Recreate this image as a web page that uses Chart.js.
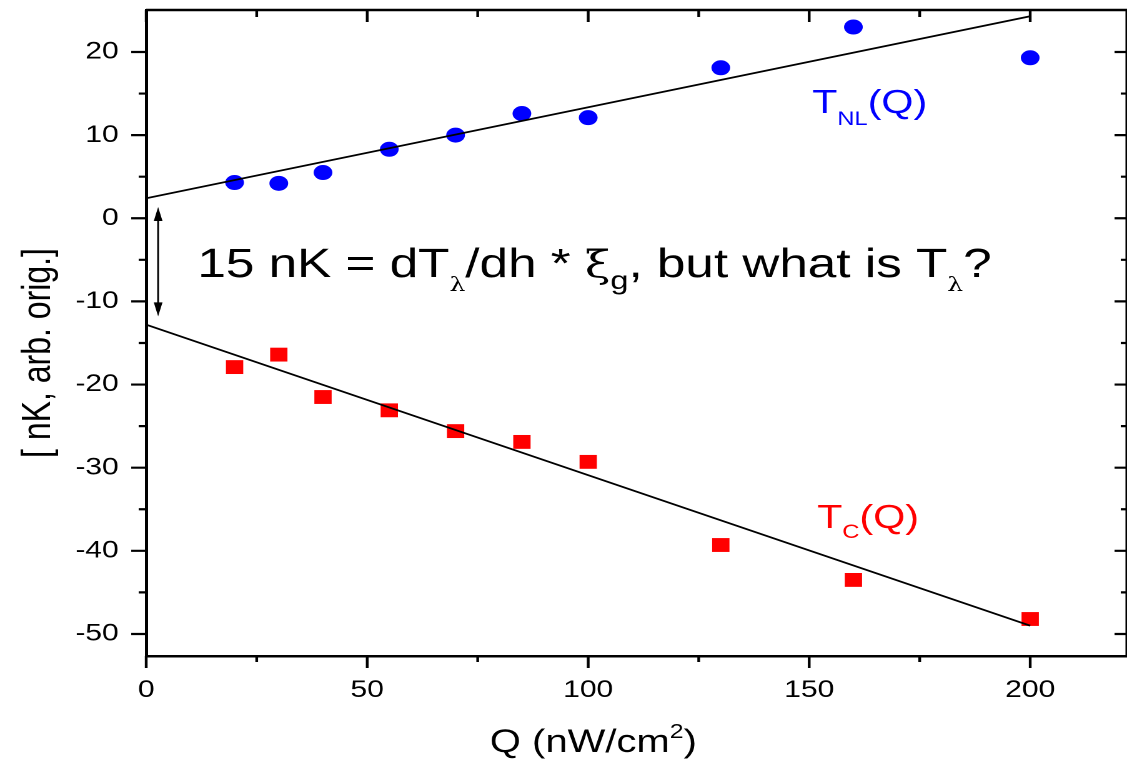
<!DOCTYPE html>
<html>
<head>
<meta charset="utf-8">
<script src="https://cdn.jsdelivr.net/npm/chart.js@4.4.1/dist/chart.umd.min.js"></script>
<style>
  html, body { margin: 0; padding: 0; background: #fff; }
  #plot { display: block; width: 1127px; height: 760px; }
</style>
</head>
<body>
<canvas id="plot" width="902" height="760" style="width:1127px;height:760px"></canvas>
<script>
// measured data (Q in nW/cm^2, temperatures in nK)
const qValues = [20, 30, 40, 55, 70, 85, 100, 130, 160, 200];
const tNL = [4.3, 4.2, 5.5, 8.3, 10.0, 12.6, 12.1, 18.1, 23.0, 19.3];
const tC = [-17.9, -16.4, -21.5, -23.1, -25.6, -26.9, -29.3, -39.3, -43.5, -48.2];

// linear fits, endpoints
const fitQ = [0, 200];
const fitNL = [2.4, 24.3];
const fitC = [-12.8, -49.0];

// double arrow between the intercepts
const arrowQ = 2.7;
const arrowY = [1.35, -11.8];

// tick positions (labelled every 50 / every 10)
const xTicks = [0, 25, 50, 75, 100, 125, 150, 175, 200];
const yTicks = [-50, -45, -40, -35, -30, -25, -20, -15, -10, -5, 0, 5, 10, 15, 20];

const xRange = [0, 221.9];
const yRange = [-52.65, 25.05];

const black = '#000';
const sans = 'Liberation Sans, Arial, sans-serif';
const serif = 'DejaVu Serif, Liberation Serif, serif';

const pts = (xs, ys) => xs.map((x, i) => ({ x: x, y: ys[i] }));

// draw a run of text pieces: [text, font, dy]
function richText(ctx, x, y, parts, color) {
    ctx.fillStyle = color;
    ctx.textBaseline = 'alphabetic';
    ctx.textAlign = 'left';
    parts.forEach(p => {
        ctx.font = p[1];
        ctx.fillText(p[0], x, y + (p[2] || 0));
        x += ctx.measureText(p[0]).width;
    });
}

const framePlugin = {
    id: 'frame',
    afterDraw(chart) {
        const ctx = chart.ctx;
        const a = chart.chartArea;
        const xs = chart.scales.x, ys = chart.scales.y;
        ctx.save();
        ctx.strokeStyle = black;
        ctx.lineWidth = 2.5;
        // top and right frame
        ctx.beginPath();
        ctx.moveTo(a.left, a.top); ctx.lineTo(a.right, a.top);
        ctx.moveTo(a.right, a.top); ctx.lineTo(a.right, a.bottom);
        ctx.stroke();

        ctx.lineWidth = 2.2;
        ctx.beginPath();
        xs.ticks.forEach(t => {
            const px = xs.getPixelForValue(t.value);
            const major = t.value % 50 === 0;
            ctx.moveTo(px, a.bottom); ctx.lineTo(px, a.bottom + (major ? 12 : 6));
            ctx.moveTo(px, a.top); ctx.lineTo(px, a.top + (major ? 12 : 7));
        });
        ys.ticks.forEach(t => {
            const py = ys.getPixelForValue(t.value);
            const major = t.value % 10 === 0;
            ctx.moveTo(a.left, py); ctx.lineTo(a.left - (major ? 12 : 6), py);
            ctx.moveTo(a.right, py); ctx.lineTo(a.right - (major ? 10 : 5), py);
        });
        ctx.stroke();

        // arrow
        const ax = xs.getPixelForValue(arrowQ);
        const y1 = ys.getPixelForValue(arrowY[0]);
        const y2 = ys.getPixelForValue(arrowY[1]);
        ctx.lineWidth = 1.5;
        ctx.beginPath();
        ctx.moveTo(ax, y1 + 10); ctx.lineTo(ax, y2 - 10);
        ctx.stroke();
        ctx.fillStyle = black;
        ctx.beginPath();
        ctx.moveTo(ax, y1); ctx.lineTo(ax - 3.5, y1 + 14); ctx.lineTo(ax + 3.5, y1 + 14); ctx.closePath();
        ctx.moveTo(ax, y2); ctx.lineTo(ax - 3.5, y2 - 14); ctx.lineTo(ax + 3.5, y2 - 14); ctx.closePath();
        ctx.fill();

        // annotation
        const f = '41px ' + sans;
        richText(ctx, 158, 277, [
            ['15 nK = dT', f],
            ['\u03bb', '20px ' + serif, 14],
            ['/dh * ', f],
            ['\u03be', '37px ' + serif],
            ['g', '26px ' + sans, 12],
            [', but what is T', f],
            ['\u03bb', '20px ' + serif, 14],
            ['?', f]
        ], black);

        // series labels
        richText(ctx, 650, 113, [
            ['T', '33px ' + sans],
            ['NL', '19px ' + sans, 12],
            ['(Q)', '33px ' + sans]
        ], '#0000ff');
        richText(ctx, 654, 528, [
            ['T', '33px ' + sans],
            ['C', '19px ' + sans, 10],
            ['(Q)', '33px ' + sans]
        ], '#ff0000');

        // axis titles
        richText(ctx, 392, 752, [
            ['Q (nW/cm', '32px ' + sans],
            ['2', '20px ' + sans, -14],
            [')', '32px ' + sans]
        ], black);
        ctx.translate(40, 353);
        ctx.rotate(-Math.PI / 2);
        ctx.font = '32px ' + sans;
        ctx.textAlign = 'center';
        ctx.textBaseline = 'alphabetic';
        ctx.fillText('[ nK, arb. orig.]', 0, 0);
        ctx.restore();
    }
};

new Chart(document.getElementById('plot').getContext('2d'), {
    type: 'scatter',
    data: {
        datasets: [
            {
                type: 'line',
                data: pts(fitQ, fitNL),
                borderColor: black,
                borderWidth: 1.8,
                pointRadius: 0,
                fill: false
            },
            {
                type: 'line',
                data: pts(fitQ, fitC),
                borderColor: black,
                borderWidth: 1.8,
                pointRadius: 0,
                fill: false
            },
            {
                label: 'TNL(Q)',
                data: pts(qValues, tNL),
                pointStyle: 'circle',
                pointRadius: 7.5,
                backgroundColor: '#0000ff',
                borderWidth: 0
            },
            {
                label: 'TC(Q)',
                data: pts(qValues, tC),
                pointStyle: 'rect',
                pointRadius: 9.8,
                backgroundColor: '#ff0000',
                borderWidth: 0
            }
        ]
    },
    options: {
        responsive: false,
        animation: false,
        devicePixelRatio: 2,
        layout: { padding: 0, autoPadding: false },
        plugins: {
            legend: { display: false },
            tooltip: { enabled: false }
        },
        scales: {
            x: {
                type: 'linear',
                min: xRange[0],
                max: xRange[1],
                afterBuildTicks: s => { s.ticks = xTicks.map(v => ({ value: v })); },
                afterFit: s => {
                    s.height = 104;
                    s.paddingLeft = 0;
                    s.paddingRight = 0;
                },
                border: { display: true, color: black, width: 2.5 },
                grid: { display: false, drawTicks: false },
                ticks: {
                    autoSkip: false,
                    maxRotation: 0,
                    padding: 20,
                    color: black,
                    font: { family: sans, size: 24 },
                    callback: v => (v % 50 === 0 ? String(v) : '')
                }
            },
            y: {
                type: 'linear',
                min: yRange[0],
                max: yRange[1],
                afterBuildTicks: s => { s.ticks = yTicks.map(v => ({ value: v })); },
                afterFit: s => {
                    s.width = 117;
                    s.paddingTop = 10;
                    s.paddingBottom = 0;
                },
                border: { display: true, color: black, width: 2.5 },
                grid: { display: false, drawTicks: false },
                ticks: {
                    autoSkip: false,
                    padding: 22,
                    color: black,
                    font: { family: sans, size: 24 },
                    callback: v => (v % 10 === 0 ? String(v) : '')
                }
            }
        }
    },
    plugins: [framePlugin]
});
</script>
</body>
</html>
